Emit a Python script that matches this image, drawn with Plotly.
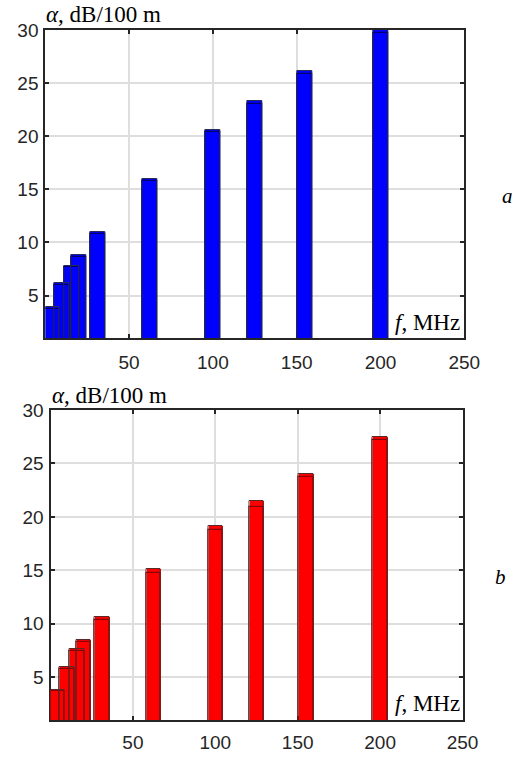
import plotly.graph_objects as go

# ---- data ----
freq = [4, 10, 16, 20, 31.25, 62.5, 100, 125, 155, 200]          # MHz
att_a = [3.9, 6.15, 7.8, 8.8, 11.0, 16.0, 20.6, 23.3, 26.1, 30.0]  # dB/100 m (panel a)
att_a_low = [3.75, 6.0, 7.65, 8.65, 10.8, 15.8, 20.35, 23.0, 25.85, 29.7]
att_b = [3.85, 5.95, 7.6, 8.45, 10.65, 15.1, 19.15, 21.45, 24.0, 27.45]  # panel b
att_b_low = [3.7, 5.8, 7.45, 8.3, 10.4, 14.75, 18.75, 20.95, 23.7, 27.2]
x_ticks = [50, 100, 150, 200, 250]
y_ticks = [5, 10, 15, 20, 25, 30]

W, H = 516, 758
BAR_W = 8.8


def px(x):
    return x / W


def py(y):
    return 1 - y / H


fig = go.Figure()

panels = [
    dict(vals=att_a, low=att_a_low, fill="#0000ff", edge="#2a2a5a", dark="#00006b",
         xa="x", ya="y", xdom=[px(45.3), px(464.3)], ydom=[py(338), py(30)]),
    dict(vals=att_b, low=att_b_low, fill="#ff0000", edge="#5a2a2a", dark="#8b0000",
         xa="x2", ya="y2", xdom=[px(50.5), px(462.5)], ydom=[py(720), py(410)]),
]

for p in panels:
    fig.add_trace(go.Bar(x=freq, y=p["vals"], width=BAR_W, xaxis=p["xa"], yaxis=p["ya"],
                         marker=dict(color=p["fill"], line=dict(width=0)),
                         showlegend=False, hoverinfo="x+y"))
    fig.add_trace(go.Bar(x=freq, y=p["low"], width=BAR_W, xaxis=p["xa"], yaxis=p["ya"],
                         marker=dict(color="rgba(0,0,0,0)", line=dict(width=1.2, color=p["dark"])),
                         showlegend=False, hoverinfo="skip"))
    fig.add_trace(go.Bar(x=freq, y=p["vals"], width=BAR_W, xaxis=p["xa"], yaxis=p["ya"],
                         marker=dict(color="rgba(0,0,0,0)", line=dict(width=1, color=p["edge"])),
                         showlegend=False, hoverinfo="skip"))

axis_common = dict(showline=True, linecolor="#262626", linewidth=2, mirror="ticks",
                   ticks="inside", ticklen=4, tickwidth=2, tickcolor="#262626",
                   showgrid=True, gridcolor="#dedede", gridwidth=2, zeroline=False,
                   tickfont=dict(family="Liberation Sans, Arial, sans-serif", size=19, color="#262626"),
                   layer="below traces", automargin=False)

layout = dict(
    width=W, height=H, margin=dict(l=0, r=0, t=0, b=0, autoexpand=False),
    paper_bgcolor="white", plot_bgcolor="white",
    barmode="overlay", bargap=0,
)
for i, p in enumerate(panels):
    sfx = "" if i == 0 else "2"
    layout["xaxis" + sfx] = dict(axis_common, domain=p["xdom"], range=[0, 250],
                                 tickvals=x_ticks, anchor=p["ya"],
                                 ticklabelstandoff=6 if i == 0 else 4)
    layout["yaxis" + sfx] = dict(axis_common, domain=p["ydom"], range=[1, 30],
                                 tickvals=y_ticks, anchor=p["xa"], ticklabelstandoff=1)
fig.update_layout(**layout)

serif = "Liberation Serif, Times New Roman, serif"
ann = [
    dict(x=px(45), y=py(14), text="<i>α</i>, dB/100 m", xanchor="left", yanchor="middle", size=23),
    dict(x=px(461), y=py(322), text="<i>f</i>, MHz", xanchor="right", yanchor="middle", size=23, bg=True),
    dict(x=px(51), y=py(395), text="<i>α</i>, dB/100 m", xanchor="left", yanchor="middle", size=23),
    dict(x=px(461), y=py(703), text="<i>f</i>, MHz", xanchor="right", yanchor="middle", size=23, bg=True),
    dict(x=px(507), y=py(196), text="<i>a</i>", xanchor="center", yanchor="middle", size=21),
    dict(x=px(500), y=py(577), text="<i>b</i>", xanchor="center", yanchor="middle", size=21),
]
for a in ann:
    fig.add_annotation(x=a["x"], y=a["y"], xref="paper", yref="paper", text=a["text"],
                       xanchor=a["xanchor"], yanchor=a["yanchor"], showarrow=False,
                       font=dict(family=serif, size=a["size"], color="black"),
                       bgcolor="white" if a.get("bg") else None, borderpad=0)

fig.write_html("out.html")
